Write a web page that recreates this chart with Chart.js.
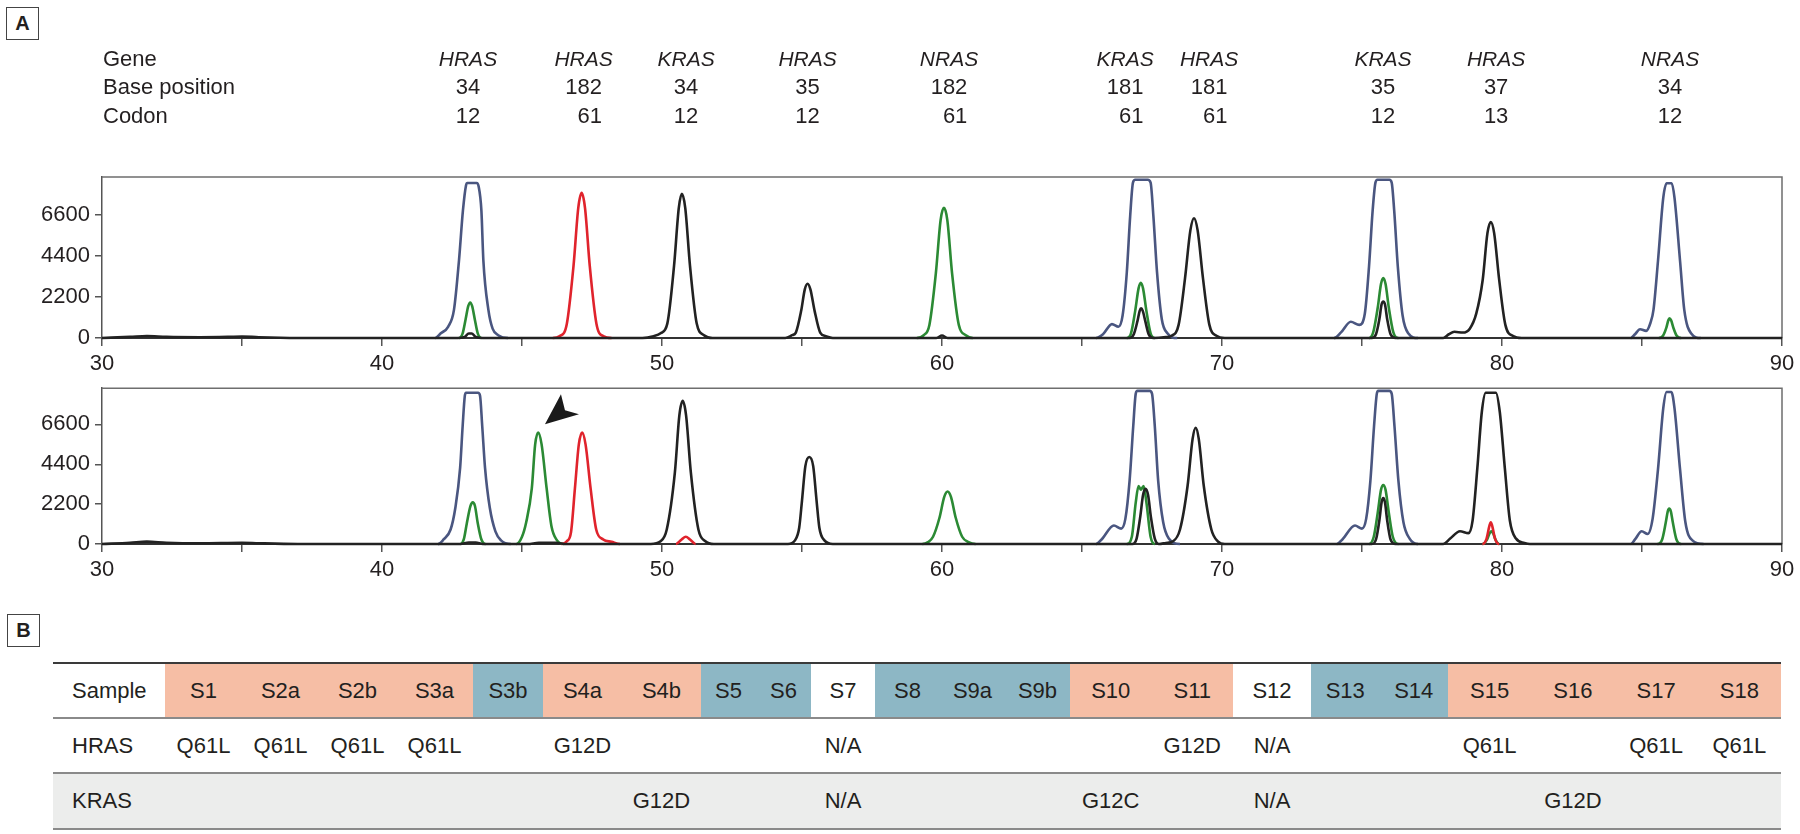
<!DOCTYPE html>
<html lang="en">
<head>
<meta charset="UTF-8">
<title>RAS mutation electropherograms</title>
<script src="https://cdn.jsdelivr.net/npm/chart.js"></script>
<style>
    body { margin: 0; background: #fff; color: #231f20; font-family: "Liberation Sans", Arial, sans-serif; }
    #page { position: relative; width: 1800px; height: 834px; overflow: hidden; }
    canvas { position: absolute; left: 0; }
    .panel-tag { position: absolute; width: 31px; height: 31px; border: 1.5px solid #444; font-weight: bold; font-size: 20px; line-height: 31px; text-align: center; }
    #table { position: absolute; left: 53px; top: 662px; width: 1728px; border-top: 2px solid #3a3a3a; }
    .row { display: flex; height: 53px; border-bottom: 2px solid #8a8a8a; font-size: 22px; }
    .row > div { display: flex; align-items: center; justify-content: center; box-sizing: border-box; }
    .row > div.lab { justify-content: flex-start; padding-left: 19px; width: 112px; }
    .row.kras { background: #ecedec; height: 54px; }
</style>
</head>
<body>
<div id="page">
    <div class="panel-tag" style="left:6px; top:7px;">A</div>
    <canvas id="topChart" width="1800" height="380" style="top:0px"></canvas>
    <canvas id="botChart" width="1800" height="220" style="top:370px"></canvas>
    <div class="panel-tag" style="left:7px; top:614px;">B</div>
    <div id="table"></div>
</div>

<script>
    // ---- header over panel A ----
    const genes    = ['HRAS', 'HRAS', 'KRAS', 'HRAS', 'NRAS', 'KRAS', 'HRAS', 'KRAS', 'HRAS', 'NRAS'];
    const basePos  = ['34', '182', '34', '35', '182', '181', '181', '35', '37', '34'];
    const codons   = ['12', '61', '12', '12', '61', '61', '61', '12', '13', '12'];
    const geneAt   = [43.07, 47.2, 50.86, 55.2, 60.25, 66.54, 69.54, 75.75, 79.79, 86.0];

    // ---- axes ----
    const xTicks = [30, 35, 40, 45, 50, 55, 60, 65, 70, 75, 80, 85, 90];
    const yTicks = [0, 1100, 2200, 3300, 4400, 5500, 6600, 7700];

    // ---- upper trace (x = size, y = RFU) ----
    const topBlue = [[30,0],[41.9,0],[42.1,250],[42.36,600],[42.57,1500],[42.75,4150],[42.89,6800],[43.0,8150],[43.05,8280],[43.38,8280],[43.45,8100],[43.55,6800],[43.62,4150],[43.8,1500],[43.95,500],[44.15,150],[44.5,0],
        [65.5,0],[65.75,200],[66.07,740],[66.3,600],[66.45,1200],[66.6,3500],[66.72,6500],[66.82,8300],[66.9,8450],[67.35,8450],[67.45,8300],[67.55,6500],[67.68,3500],[67.85,1000],[68.05,250],[68.4,0],
        [74.0,0],[74.25,300],[74.6,870],[74.9,700],[75.1,1300],[75.25,3800],[75.38,6800],[75.48,8300],[75.55,8450],[75.98,8450],[76.06,8300],[76.15,6800],[76.28,3800],[76.45,1200],[76.65,250],[77.0,0],
        [84.6,0],[84.75,200],[84.93,470],[85.15,380],[85.3,800],[85.41,1500],[85.57,4100],[85.76,7500],[85.88,8270],[86.06,8270],[86.16,7500],[86.36,4100],[86.51,1500],[86.75,250],[87.1,0],[90,0]];
    const topGreen = [[30,0],[42.75,0],[42.88,250],[42.98,950],[43.08,1700],[43.15,1900],[43.22,1700],[43.32,950],[43.42,250],[43.55,0],
        [59.1,0],[59.35,150],[59.55,700],[59.78,3450],[59.95,6300],[60.07,6950],[60.19,6300],[60.36,3450],[60.6,700],[60.85,150],[61.1,0],
        [66.6,0],[66.75,250],[66.9,1450],[67.02,2650],[67.1,2950],[67.18,2650],[67.3,1450],[67.45,250],[67.6,0],
        [75.25,0],[75.4,300],[75.56,1600],[75.68,2900],[75.76,3200],[75.84,2900],[75.96,1600],[76.12,300],[76.3,0],
        [85.6,0],[85.75,120],[85.87,550],[85.94,950],[85.98,1050],[86.04,950],[86.12,550],[86.24,120],[86.4,0],[90,0]];
    const topRed = [[30,0],[46.1,0],[46.35,100],[46.6,750],[46.84,3850],[47.01,6950],[47.13,7750],[47.25,6950],[47.42,3850],[47.66,750],[47.9,100],[48.2,0],[90,0]];
    const topBlack = [[30,0],[31.0,60],[31.6,110],[32.3,60],[33.5,40],[34.5,60],[35.0,80],[35.6,40],[37,0],
        [42.7,0],[42.95,60],[43.1,240],[43.2,240],[43.35,60],[43.6,0],
        [49.3,0],[49.7,100],[49.95,250],[50.19,770],[50.43,3850],[50.6,6950],[50.71,7700],[50.83,6950],[51.0,3850],[51.24,770],[51.5,150],[51.8,0],
        [54.4,0],[54.65,150],[54.78,290],[54.97,1450],[55.1,2600],[55.2,2900],[55.3,2600],[55.45,1450],[55.65,290],[55.85,100],[56.1,0],
        [59.8,0],[60.0,130],[60.2,0],
        [66.7,0],[66.85,200],[66.98,900],[67.06,1450],[67.11,1580],[67.17,1450],[67.26,900],[67.38,200],[67.55,0],
        [68.0,50],[68.2,120],[68.45,700],[68.68,3200],[68.87,5750],[69.0,6400],[69.13,5750],[69.32,3200],[69.55,700],[69.8,120],[70.1,0],
        [75.35,0],[75.5,200],[75.62,1000],[75.7,1800],[75.76,1950],[75.82,1800],[75.9,1000],[76.02,200],[76.2,0],
        [77.9,0],[78.1,200],[78.3,330],[78.6,290],[78.85,500],[79.08,1300],[79.31,3100],[79.48,5600],[79.6,6200],[79.72,5600],[79.9,3100],[80.12,700],[80.4,100],[80.7,0],[90,0]];

    // ---- lower trace ----
    const botBlue = [[30,0],[42.0,0],[42.2,250],[42.45,800],[42.62,2000],[42.79,4200],[42.88,6500],[42.96,8200],[43.0,8350],[43.43,8350],[43.5,8200],[43.58,6500],[43.68,4200],[43.85,2000],[44.05,700],[44.25,200],[44.6,0],
        [65.5,0],[65.7,250],[66.14,1020],[66.4,850],[66.55,1400],[66.7,3500],[66.83,6500],[66.92,8300],[66.98,8450],[67.42,8450],[67.5,8300],[67.6,6500],[67.72,3500],[67.9,1200],[68.1,300],[68.5,0],
        [74.1,0],[74.3,250],[74.75,1020],[75.0,850],[75.15,1400],[75.3,3500],[75.43,6500],[75.53,8300],[75.58,8450],[75.98,8450],[76.06,8300],[76.16,6500],[76.3,3500],[76.48,1200],[76.7,300],[77.0,0],
        [84.6,0],[84.75,250],[84.99,700],[85.2,550],[85.38,1400],[85.57,4100],[85.76,7500],[85.88,8390],[86.05,8390],[86.16,7500],[86.36,4100],[86.55,1200],[86.8,200],[87.2,0],[90,0]];
    const botGreen = [[30,0],[42.8,0],[42.92,250],[43.03,1150],[43.16,2100],[43.24,2300],[43.32,2100],[43.42,1150],[43.55,250],[43.7,0],
        [44.8,0],[45.0,400],[45.15,1200],[45.35,3070],[45.47,5500],[45.58,6150],[45.7,5500],[45.88,3070],[46.05,1000],[46.25,200],[46.5,0],
        [59.3,0],[59.5,100],[59.68,400],[59.91,1450],[60.08,2600],[60.2,2900],[60.32,2600],[60.49,1450],[60.72,400],[60.95,100],[61.2,0],
        [66.6,0],[66.78,400],[66.92,2300],[67.02,3200],[67.1,3000],[67.2,3200],[67.3,2300],[67.45,400],[67.6,0],
        [75.25,0],[75.42,400],[75.56,1700],[75.68,3000],[75.76,3260],[75.84,3000],[75.96,1700],[76.1,400],[76.3,0],
        [79.3,0],[79.45,200],[79.56,600],[79.62,700],[79.68,600],[79.78,200],[79.9,0],
        [85.55,0],[85.72,250],[85.85,1200],[85.92,1800],[85.97,1950],[86.03,1800],[86.1,1200],[86.23,250],[86.4,0],[90,0]];
    const botRed = [[30,0],[46.4,0],[46.6,150],[46.75,650],[46.89,3070],[47.03,5500],[47.15,6150],[47.27,5500],[47.45,3070],[47.65,800],[47.9,250],[48.2,120],[48.5,0],
        [50.5,0],[50.7,250],[50.85,400],[51.0,250],[51.2,0],
        [79.3,0],[79.45,300],[79.55,1000],[79.6,1200],[79.65,1000],[79.75,300],[79.9,0],[90,0]];
    const botBlack = [[30,0],[31.0,70],[31.6,130],[32.3,70],[33.5,40],[35.0,70],[35.6,40],[37,0],
        [42.8,0],[43.1,80],[43.35,80],[43.6,0],
        [45.2,0],[45.6,60],[46.2,60],[46.6,0],
        [49.6,0],[49.95,150],[50.17,800],[50.46,3950],[50.62,7100],[50.74,7900],[50.86,7100],[51.03,3950],[51.3,800],[51.55,150],[51.85,0],
        [54.5,0],[54.75,200],[54.9,900],[55.0,2400],[55.12,4300],[55.26,4800],[55.4,4300],[55.52,2400],[55.62,900],[55.8,200],[56.1,0],
        [66.8,0],[66.95,300],[67.08,1500],[67.18,2700],[67.27,3050],[67.36,2700],[67.46,1500],[67.6,300],[67.75,0],
        [68.0,60],[68.25,150],[68.5,800],[68.77,3200],[68.95,5800],[69.06,6420],[69.17,5800],[69.35,3200],[69.62,800],[69.85,150],[70.1,0],
        [75.35,0],[75.5,250],[75.62,1300],[75.7,2300],[75.76,2540],[75.82,2300],[75.9,1300],[76.02,250],[76.2,0],
        [77.9,0],[78.15,300],[78.5,700],[78.8,600],[78.95,1300],[79.12,4200],[79.28,7300],[79.42,8350],[79.78,8350],[79.92,7300],[80.1,4200],[80.28,1300],[80.5,300],[80.8,60],[81.0,0],[90,0]];

    // arrowhead in panel A (lower trace) points at this peak
    const arrowTip = {x: 45.82, y: 6615};

    // ---- table B ----
    const samples   = ['S1','S2a','S2b','S3a','S3b','S4a','S4b','S5','S6','S7','S8','S9a','S9b','S10','S11','S12','S13','S14','S15','S16','S17','S18'];
    const sampleGrp = ['s','s','s','s','b','s','s','b','b','w','b','b','b','s','s','w','b','b','s','s','s','s'];
    const hrasCalls = ['Q61L','Q61L','Q61L','Q61L','','G12D','','','','N/A','','','','','G12D','N/A','','','Q61L','','Q61L','Q61L'];
    const krasCalls = ['','','','','','','G12D','','','N/A','','','','G12C','','N/A','','','','G12D','',''];
    // layout only
    const colWidths = [77,77,77,77,70,79,79,55,55,64,65,65,65,81.5,81.5,78,68.5,68.5,83.25,83.25,83.25,83.25];
    const grpColor = {s: '#f6bea5', b: '#8db7c5', w: '#ffffff'};

    const FONT = '"Liberation Sans", Arial, sans-serif';
    const INK = '#231f20';
    Chart.defaults.font.family = FONT;
    Chart.defaults.color = INK;

    function toPts(arr) {
        return arr.map(p => ({x: p[0], y: p[1]}));
    }

    // coloured dyes leave the flat baseline to the black trace (avoids a tinted fringe)
    const hideFlat = ctx => (ctx.p0.parsed.y === 0 && ctx.p1.parsed.y === 0 ? 'rgba(0,0,0,0)' : undefined);

    function trace(label, pts, color, order, keepBase) {
        const ds = {
            label: label,
            data: toPts(pts),
            borderColor: color,
            borderWidth: 2.6,
            pointRadius: 0,
            fill: false,
            cubicInterpolationMode: 'monotone',
            order: order,
            clip: false
        };
        if (!keepBase) ds.segment = { borderColor: hideFlat };
        return ds;
    }

    // top and right edges of the plot box
    const framePlugin = {
        id: 'frame',
        beforeDatasetsDraw(chart) {
            const a = chart.chartArea, ctx = chart.ctx;
            ctx.save();
            ctx.strokeStyle = '#6e6e6e';
            ctx.lineWidth = 1.5;
            ctx.beginPath();
            ctx.moveTo(a.left, a.top);
            ctx.lineTo(a.right, a.top);
            ctx.lineTo(a.right, a.bottom);
            ctx.stroke();
            ctx.restore();
        }
    };

    const headerPlugin = {
        id: 'header',
        afterDraw(chart) {
            const ctx = chart.ctx, xs = chart.scales.x;
            const left = chart.chartArea.left + 1;
            ctx.save();
            ctx.fillStyle = INK;
            ctx.textBaseline = 'middle';
            ctx.font = '22px ' + FONT;
            ctx.textAlign = 'left';
            ctx.fillText('Gene', left, 60);
            ctx.fillText('Base position', left, 88);
            ctx.fillText('Codon', left, 117);
            genes.forEach((g, i) => {
                const cx = xs.getPixelForValue(geneAt[i]);
                ctx.textAlign = 'center';
                ctx.font = 'italic 21px ' + FONT;
                ctx.fillText(g, cx, 60);
                ctx.font = '22px ' + FONT;
                ctx.fillText(basePos[i], cx, 88);
                const right = cx + ctx.measureText(basePos[i]).width / 2;
                ctx.textAlign = 'right';
                ctx.fillText(codons[i], right, 117);
            });
            ctx.restore();
        }
    };

    const arrowPlugin = {
        id: 'arrow',
        afterDraw(chart) {
            const ctx = chart.ctx;
            const tx = chart.scales.x.getPixelForValue(arrowTip.x);
            const ty = chart.scales.y.getPixelForValue(arrowTip.y);
            ctx.save();
            ctx.fillStyle = '#1a1a1a';
            ctx.beginPath();
            ctx.moveTo(tx, ty);
            ctx.lineTo(tx + 16, ty - 30);
            ctx.lineTo(tx + 20, ty - 14);
            ctx.lineTo(tx + 34, ty - 10);
            ctx.closePath();
            ctx.fill();
            ctx.restore();
        }
    };

    function makeChart(id, datasets, padTop, xAxisH, extra) {
        return new Chart(document.getElementById(id), {
            type: 'line',
            data: { datasets: datasets },
            options: {
                responsive: false,
                animation: false,
                devicePixelRatio: 1,
                events: [],
                layout: { padding: { top: padTop, right: 18, left: 0, bottom: 0 } },
                plugins: { legend: { display: false }, tooltip: { enabled: false } },
                scales: {
                    x: {
                        type: 'linear',
                        min: 30,
                        max: 90,
                        afterBuildTicks: s => { s.ticks = xTicks.map(v => ({ value: v })); },
                        afterFit: s => { s.height = xAxisH; },
                        ticks: {
                            autoSkip: false,
                            maxRotation: 0,
                            padding: 5,
                            color: INK,
                            font: { size: 22 },
                            callback: v => (v % 10 === 0 ? String(v) : '')
                        },
                        grid: { drawOnChartArea: false, drawTicks: true, tickLength: 8, color: '#555', lineWidth: 1.5 },
                        border: { display: true, color: '#333', width: 2 }
                    },
                    y: {
                        type: 'linear',
                        min: 0,
                        max: 8600,
                        afterBuildTicks: s => { s.ticks = yTicks.map(v => ({ value: v })); },
                        afterFit: s => { s.width = 102; },
                        ticks: {
                            padding: 5,
                            color: INK,
                            font: { size: 22 },
                            callback: v => (v % 2200 === 0 ? String(v) : '')
                        },
                        grid: { drawOnChartArea: false, drawTicks: true, tickLength: 7, color: '#555', lineWidth: 1.5 },
                        border: { display: true, color: '#555', width: 1.5 }
                    }
                }
            },
            plugins: [framePlugin].concat(extra)
        });
    }

    const BLUE = '#4a5680', GREEN = '#2b8a34', RED = '#e0232c', BLACK = '#222222';

    makeChart('topChart', [
        trace('blue', topBlue, BLUE, 4),
        trace('green', topGreen, GREEN, 3),
        trace('red', topRed, RED, 2),
        trace('black', topBlack, BLACK, 1, true)
    ], 177, 42, [headerPlugin]);

    makeChart('botChart', [
        trace('blue', botBlue, BLUE, 4),
        trace('green', botGreen, GREEN, 3),
        trace('red', botRed, RED, 2),
        trace('black', botBlack, BLACK, 1, true)
    ], 14, 46, [arrowPlugin]);

    // table
    function buildRow(label, cells, cls, fills) {
        const row = document.createElement('div');
        row.className = 'row' + (cls ? ' ' + cls : '');
        const lab = document.createElement('div');
        lab.className = 'lab';
        lab.textContent = label;
        row.appendChild(lab);
        cells.forEach((c, i) => {
            const d = document.createElement('div');
            d.style.width = colWidths[i] + 'px';
            if (fills) d.style.background = grpColor[fills[i]];
            d.textContent = c;
            row.appendChild(d);
        });
        return row;
    }
    const table = document.getElementById('table');
    table.appendChild(buildRow('Sample', samples, '', sampleGrp));
    table.appendChild(buildRow('HRAS', hrasCalls, '', null));
    table.appendChild(buildRow('KRAS', krasCalls, 'kras', null));
</script>
</body>
</html>
